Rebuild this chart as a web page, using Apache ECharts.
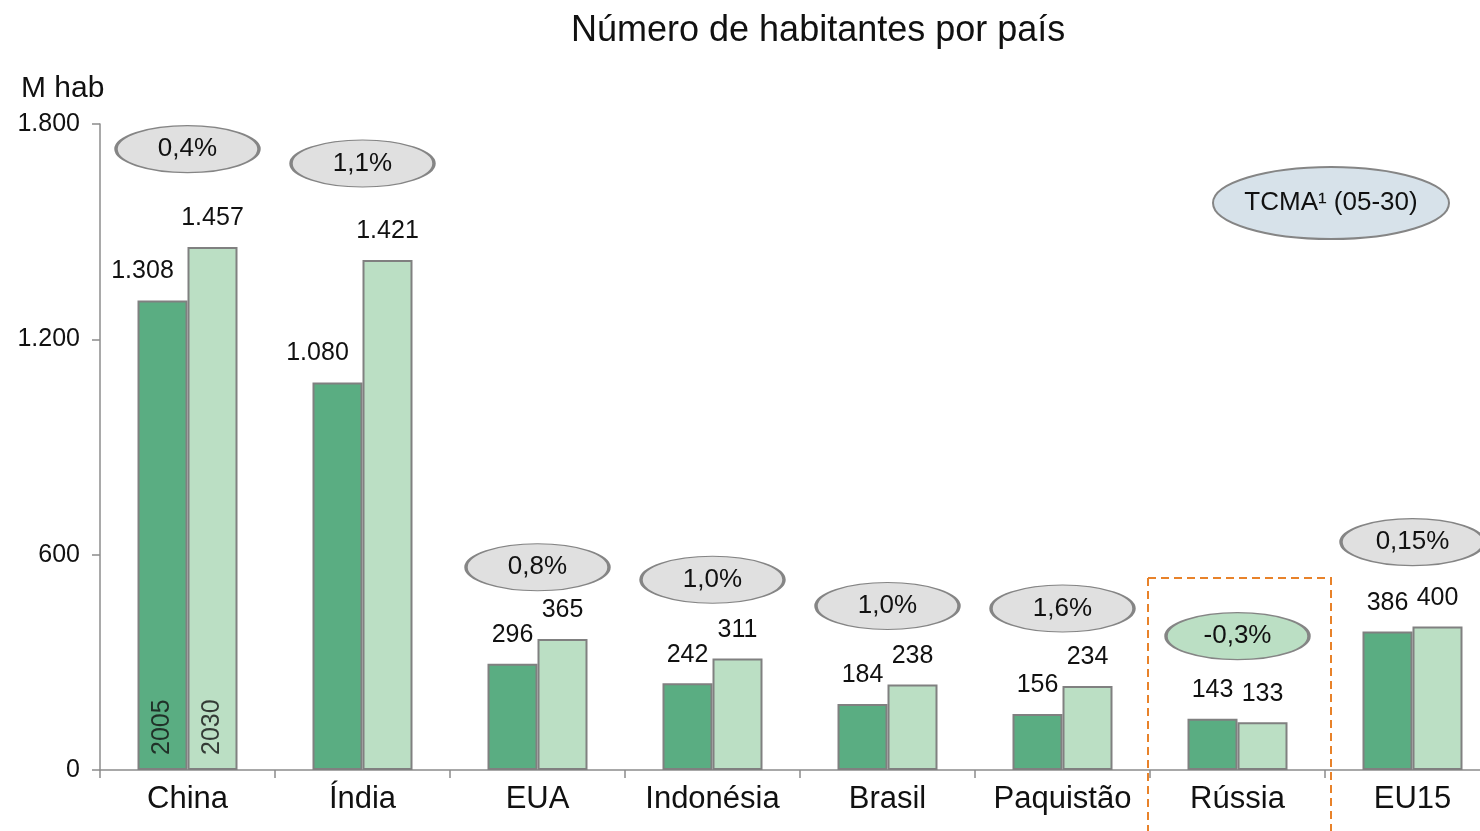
<!DOCTYPE html>
<html>
<head>
<meta charset="utf-8">
<script src="https://cdn.jsdelivr.net/npm/echarts@6/dist/echarts.min.js"></script>
<style>
    html, body { margin: 0; padding: 0; background: #fff; }
    #chart { width: 1480px; height: 831px; }
</style>
</head>
<body>
<div id="chart"></div>
<script>
    // dados
    var countries = ['China', 'Índia', 'EUA', 'Indonésia', 'Brasil', 'Paquistão', 'Rússia', 'EU15'];
    var pop2005 = [1308, 1080, 296, 242, 184, 156, 143, 386];
    var pop2030 = [1457, 1421, 365, 311, 238, 234, 133, 400];
    var growthText = ['0,4%', '1,1%', '0,8%', '1,0%', '1,0%', '1,6%', '-0,3%', '0,15%'];
    var growthY = [1730, 1690, 565, 530, 457, 450, 373, 635];
    var yTicks = [0, 600, 1200, 1800];

    var fontFam = '"Liberation Sans", Arial, sans-serif';

    function fmt(v) {
        var s = String(Math.round(v));
        return s.replace(/\B(?=(\d{3})+(?!\d))/g, '.');
    }

    var ellipsePath = 'path://M0,50A100,50 0 1,1 200,50A100,50 0 1,1 0,50Z';

    var barLabel = {
        show: true,
        position: 'top',
        distance: 16,
        color: '#111',
        fontSize: 25,
        fontFamily: fontFam,
        formatter: function (p) { return fmt(p.value); }
    };

    // rótulos do 2005 deslocados para a esquerda (China e Índia)
    var data2005 = pop2005.map(function (v, i) {
        if (i < 2) {
            return { value: v, label: { offset: [-20, -1] } };
        }
        return v;
    });

    var myChart = echarts.init(document.getElementById('chart'));
    myChart.setOption({
        animation: false,
        textStyle: { fontFamily: fontFam },
        title: [{
            text: 'Número de habitantes por país',
            left: 566,
            top: 8,
            textStyle: { fontSize: 36, fontWeight: 'normal', color: '#111', fontFamily: fontFam }
        }, {
            text: 'M hab',
            left: 16,
            top: 69,
            textStyle: { fontSize: 30, fontWeight: 'normal', color: '#111', fontFamily: fontFam }
        }],
        grid: {
            left: 100,
            top: 124,
            width: 1400,
            height: 646,
            containLabel: false,
            outerBoundsMode: 'none'
        },
        xAxis: {
            type: 'category',
            data: countries,
            axisLine: { lineStyle: { color: '#8c8c8c', width: 1.5 } },
            axisTick: { show: true, length: 8, lineStyle: { color: '#8c8c8c', width: 1.5 } },
            axisLabel: { color: '#111', fontSize: 31, margin: 14, interval: 0, fontFamily: fontFam }
        },
        yAxis: {
            type: 'value',
            min: yTicks[0],
            max: yTicks[yTicks.length - 1],
            interval: yTicks[1] - yTicks[0],
            axisLine: { show: true, lineStyle: { color: '#8c8c8c', width: 1.5 } },
            axisTick: { show: true, length: 8, lineStyle: { color: '#8c8c8c', width: 1.5 } },
            splitLine: { show: false },
            axisLabel: {
                color: '#111',
                fontSize: 25,
                margin: 20,
                fontFamily: fontFam,
                formatter: function (v) { return fmt(v); }
            }
        },
        series: [{
            name: '2005',
            type: 'bar',
            barWidth: 50,
            barGap: '0%',
            data: data2005,
            itemStyle: { color: '#5aad82', borderColor: '#808080', borderWidth: 2 },
            label: barLabel
        }, {
            name: '2030',
            type: 'bar',
            barWidth: 50,
            barGap: '0%',
            data: pop2030,
            itemStyle: { color: '#bbdfc4', borderColor: '#808080', borderWidth: 2 },
            label: barLabel
        }, {
            name: 'TCMA',
            type: 'scatter',
            z: 5,
            symbol: ellipsePath,
            symbolSize: [143, 47],
            data: growthY.map(function (v, i) {
                return {
                    value: [i, v],
                    itemStyle: { color: i === 6 ? '#bbdfc4' : '#e0e0e0' }
                };
            }),
            itemStyle: { borderColor: '#858585', borderWidth: 2, opacity: 1 },
            label: {
                show: true,
                position: 'inside',
                color: '#111',
                fontSize: 26,
                fontFamily: fontFam,
                formatter: function (p) { return growthText[p.dataIndex]; }
            },
            emphasis: { disabled: true }
        }, {
            // anos escritos na vertical dentro das barras da China
            name: 'anos',
            type: 'scatter',
            z: 6,
            symbolSize: 0,
            data: [
                { value: [0, 0], label: { formatter: '2005', offset: [15, -25] } },
                { value: [0, 0], label: { formatter: '2030', offset: [15, 25] } }
            ],
            label: {
                show: true,
                position: 'inside',
                rotate: 90,
                align: 'left',
                verticalAlign: 'middle',
                color: '#111',
                fontSize: 25,
                fontFamily: fontFam
            },
            emphasis: { disabled: true }
        }]
    });

    // caixa tracejada da Rússia e a legenda TCMA
    var cx = myChart.convertToPixel({ xAxisIndex: 0 }, 6);
    var band = myChart.convertToPixel({ xAxisIndex: 0 }, 7) - cx;
    var boxTop = myChart.convertToPixel({ yAxisIndex: 0 }, 535);
    myChart.setOption({
        graphic: [{
            type: 'rect',
            shape: { x: cx - band / 2 - 2, y: boxTop, width: band + 8, height: 831 - boxTop + 10 },
            style: { fill: 'none', stroke: '#e8822a', lineWidth: 2, lineDash: [8, 5] },
            z: 10
        }, {
            type: 'group',
            left: 1212,
            top: 166,
            children: [{
                type: 'ellipse',
                shape: { cx: 118, cy: 36, rx: 118, ry: 36 },
                style: { fill: '#d7e2ea', stroke: '#858585', lineWidth: 2 }
            }, {
                type: 'text',
                style: {
                    x: 118, y: 36,
                    text: 'TCMA¹ (05-30)',
                    align: 'center',
                    verticalAlign: 'middle',
                    fontSize: 26,
                    fontFamily: fontFam,
                    fill: '#111'
                }
            }]
        }]
    });
</script>
</body>
</html>
